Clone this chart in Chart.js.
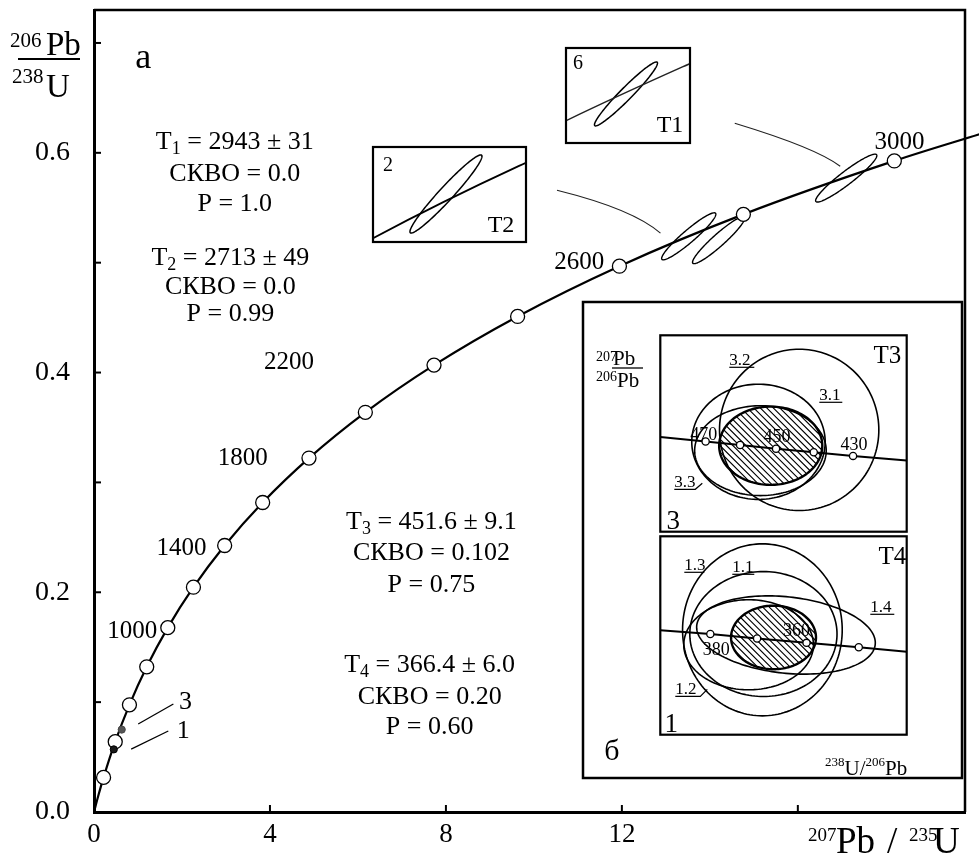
<!DOCTYPE html>
<html><head><meta charset="utf-8">
<script src="https://cdn.jsdelivr.net/npm/chart.js@4.4.1/dist/chart.umd.min.js"></script>
<style>
html,body{margin:0;padding:0;background:#fff}
#wrap{position:relative;width:979px;height:857px;overflow:hidden;background:#fff}
canvas{position:absolute}
</style></head><body>
<div id="wrap">
<canvas id="main" width="979" height="857" style="left:0;top:0"></canvas>
<canvas id="box1"></canvas><canvas id="box2"></canvas><canvas id="p3"></canvas><canvas id="p4"></canvas>
</div>
<script>
const SERIF = '"Liberation Serif","Times New Roman",serif';

// ---------- main concordia (207Pb/235U vs 206Pb/238U) ----------
const concordiaAges = [0,100,200,400,600,800,1000,1200,1400,1600,1800,2000,2200,2400,2600,2800,3000,3100];
const concordiaX = [0,0.1035,0.2177,0.4828,0.8057,1.1987,1.6774,2.2603,2.9701,3.8344,4.8869,6.1685,7.7292,9.6296,11.944,14.762,18.193,20.18];
const concordiaY = [0,0.01563,0.03151,0.06402,0.09754,0.13214,0.16782,0.20462,0.24257,0.28173,0.32212,0.36378,0.40676,0.45109,0.49681,0.54398,0.59264,0.61754];
const markerAges = [200,400,600,800,1000,1200,1400,1600,1800,2000,2200,2400,2600,2800,3000];
const labelledAges = [1000,1400,1800,2200,2600,3000];
const ageLabelX = [0.87,1.99,3.38,4.43,11.03,18.31];
const ageLabelY = [0.164,0.240,0.322,0.4095,0.5005,0.6097];
const sampleX = [0.45,0.63];
const sampleY = [0.057,0.075];
const xTicks = [0,4,8,12,16];
const xTickLabels = ['0','4','8','12',''];
const yTicks = [0,0.1,0.2,0.3,0.4,0.5,0.6,0.7];
const yTickLabels = ['0.0','','0.2','','0.4','','0.6',''];
// error ellipses on the main plot: centre, half-extent, correlation
const mainEllipses = [
  {x:13.52,y:0.524,sx:0.616,sy:0.0214,rho:0.94},
  {x:14.20,y:0.5205,sx:0.594,sy:0.0214,rho:0.94},
  {x:17.10,y:0.577,sx:0.696,sy:0.0218,rho:0.94}
];
const statBlocks = [
  {x:3.20,y:[0.610,0.581,0.553],T:'1',val:'2943 ± 31',mswd:'0.0',p:'1.0'},
  {x:3.10,y:[0.504,0.478,0.453],T:'2',val:'2713 ± 49',mswd:'0.0',p:'0.99'},
  {x:7.67,y:[0.2639,0.2357,0.2066],T:'3',val:'451.6 ± 9.1',mswd:'0.102',p:'0.75'},
  {x:7.63,y:[0.1338,0.1046,0.0773],T:'4',val:'366.4 ± 6.0',mswd:'0.20',p:'0.60'}
];
// leader curves [start, control, end] in data units
const leaderCurves = [
  [[10.525,0.566],[12.26,0.5487],[12.877,0.5269]],
  [[14.566,0.627],[16.44,0.6042],[16.963,0.5878]]
];
const sampleLeaders = [
  {from:[1.005,0.0801],to:[1.804,0.0983],label:'3',lx:2.08,ly:0.1001},
  {from:[0.845,0.0573],to:[1.689,0.0737],label:'1',lx:2.03,ly:0.0737}
];

// ---------- zoom boxes ----------
const box1Ellipse = {x:17.10,y:0.577,sx:0.610,sy:0.0185,rho:0.964};
const box1X = [15.939,18.339], box1Y = [0.5486,0.6036];
const box2Ellipse = {x:13.52,y:0.528,sx:0.612,sy:0.0222,rho:0.965};
const box2X = [12.28,14.88], box2Y = [0.5007,0.5547];

// ---------- Tera-Wasserburg panels (238U/206Pb vs 207Pb/206Pb) ----------
const t3Ages = [470,460,450,440,430];
const t3X = [13.222,13.520,13.831,14.157,14.497];
const t3Y = [0.05645,0.05620,0.05594,0.05569,0.05543];
const t3LineX = [12.83,14.961], t3LineY = [0.05677,0.05511];
const t3Range = {x:[12.83,14.961], y:[0.050062,0.063969]};
const t3Ellipses = [
  {name:'3.2',x:14.031,y:0.057271,sx:0.689,sy:0.00571},
  {name:'3.1',x:13.679,y:0.056427,sx:0.577,sy:0.00408},
  {name:'3.3',x:13.696,y:0.05580,sx:0.569,sy:0.00318},
  {name:'mean',x:13.785,y:0.05615,sx:0.446,sy:0.00277,hatch:true}
];
const t4Ages = [380,370,360,350];
const t4X = [16.469,16.927,17.411,17.923];
const t4Y = [0.054214,0.053975,0.053735,0.053500];
const t4LineX = [15.979,18.3925], t4LineY = [0.054428,0.053258];
const t4Range = {x:[15.979,18.3925], y:[0.048737,0.059535]};
const t4Ellipses = [
  {name:'1.3',x:16.979,y:0.054444,sx:0.782,sy:0.00468},
  {name:'1.1',x:16.989,y:0.054216,sx:0.721,sy:0.00340},
  {name:'1.4',x:17.210,y:0.054163,sx:0.875,sy:0.00213,rho:-0.2},
  {name:'1.2',x:16.844,y:0.053631,sx:0.635,sy:0.00245},
  {name:'mean',x:17.088,y:0.054030,sx:0.416,sy:0.00173,hatch:true}
];

// ---------- helpers ----------
function ellipsePath(ctx, xs, ys, e){
  const cx = xs.getPixelForValue(e.x), cy = ys.getPixelForValue(e.y);
  const kx = xs.getPixelForValue(e.x + e.sx) - cx;
  const ky = cy - ys.getPixelForValue(e.y + e.sy);
  const r = e.rho || 0, q = Math.sqrt(1 - r*r);
  ctx.beginPath();
  for (let i = 0; i <= 160; i++){
    const th = i/160*Math.PI*2;
    const px = cx + kx*Math.cos(th);
    const py = cy - ky*(r*Math.cos(th) + q*Math.sin(th));
    if (i) ctx.lineTo(px,py); else ctx.moveTo(px,py);
  }
  ctx.closePath();
  return {cx,cy,R:Math.max(kx,ky)+3};
}
function hatchEllipse(ctx, xs, ys, e, gap){
  ctx.save();
  const g = ellipsePath(ctx,xs,ys,e);
  ctx.clip();
  ctx.beginPath();
  for (let d = -2*g.R; d <= 2*g.R; d += gap){
    ctx.moveTo(g.cx + d - g.R, g.cy - g.R);
    ctx.lineTo(g.cx + d + g.R, g.cy + g.R);
  }
  ctx.lineWidth = 1.1; ctx.strokeStyle = '#000'; ctx.stroke();
  ctx.restore();
}
function rich(ctx, parts, x, y, align){
  let w = 0;
  for (const p of parts){ ctx.font = p[1]+'px '+SERIF; w += ctx.measureText(p[0]).width; }
  let cx = align==='center' ? x - w/2 : (align==='right' ? x - w : x);
  ctx.textAlign = 'left';
  for (const p of parts){
    ctx.font = p[1]+'px '+SERIF;
    ctx.fillText(p[0], cx, y + (p[2]||0));
    cx += ctx.measureText(p[0]).width;
  }
}
function txt(ctx, s, x, y, size, align, base){
  ctx.font = size+'px '+SERIF; ctx.textAlign = align||'center'; ctx.textBaseline = base||'middle';
  ctx.fillText(s, x, y);
}

// ---------- main chart ----------
const mainPlugin = {
  id:'mainDeco',
  beforeDatasetsDraw(c){
    const ctx = c.ctx, xs = c.scales.x, ys = c.scales.y;
    ctx.save(); ctx.strokeStyle = '#000'; ctx.lineWidth = 1.4;
    mainEllipses.forEach(e => { ellipsePath(ctx,xs,ys,e); ctx.stroke(); });
    ctx.lineWidth = 1.1; ctx.strokeStyle = '#222';
    leaderCurves.forEach(L => {
      ctx.beginPath();
      ctx.moveTo(xs.getPixelForValue(L[0][0]), ys.getPixelForValue(L[0][1]));
      ctx.quadraticCurveTo(xs.getPixelForValue(L[1][0]), ys.getPixelForValue(L[1][1]),
                           xs.getPixelForValue(L[2][0]), ys.getPixelForValue(L[2][1]));
      ctx.stroke();
    });
    ctx.lineWidth = 1.3; ctx.strokeStyle = '#000';
    sampleLeaders.forEach(L => {
      ctx.beginPath();
      ctx.moveTo(xs.getPixelForValue(L.from[0]), ys.getPixelForValue(L.from[1]));
      ctx.lineTo(xs.getPixelForValue(L.to[0]), ys.getPixelForValue(L.to[1]));
      ctx.stroke();
    });
    ctx.restore();
  },
  afterDatasetsDraw(c){
    const ctx = c.ctx, xs = c.scales.x, ys = c.scales.y;
    ctx.save(); ctx.fillStyle = '#000';
    labelledAges.forEach((a,i) => txt(ctx, String(a), xs.getPixelForValue(ageLabelX[i]), ys.getPixelForValue(ageLabelY[i]), 25));
    sampleLeaders.forEach(L => txt(ctx, L.label, xs.getPixelForValue(L.lx), ys.getPixelForValue(L.ly), 26));
    txt(ctx, 'а', xs.getPixelForValue(1.12), ys.getPixelForValue(0.686), 36);
    ctx.textBaseline = 'middle';
    statBlocks.forEach(b => {
      const px = xs.getPixelForValue(b.x);
      rich(ctx, [['T',26],[b.T,18,7],[' = '+b.val,26]], px, ys.getPixelForValue(b.y[0]), 'center');
      rich(ctx, [['СКВО = '+b.mswd,26]], px, ys.getPixelForValue(b.y[1]), 'center');
      rich(ctx, [['P = '+b.p,26]], px, ys.getPixelForValue(b.y[2]), 'center');
    });
    ctx.restore();
  },
  afterDraw(c){
    const ctx = c.ctx, a = c.chartArea, xs = c.scales.x, ys = c.scales.y;
    ctx.save(); ctx.strokeStyle = '#000';
    // top and right frame
    ctx.lineWidth = 2.5;
    ctx.beginPath(); ctx.moveTo(a.left, a.top); ctx.lineTo(a.right, a.top); ctx.lineTo(a.right, a.bottom); ctx.stroke();
    // inward ticks
    ctx.lineWidth = 2;
    xTicks.forEach(v => { const p = xs.getPixelForValue(v); ctx.beginPath(); ctx.moveTo(p, a.bottom); ctx.lineTo(p, a.bottom-7); ctx.stroke(); });
    yTicks.forEach(v => { const p = ys.getPixelForValue(v); ctx.beginPath(); ctx.moveTo(a.left, p); ctx.lineTo(a.left+7, p); ctx.stroke(); });
    // y title
    ctx.fillStyle = '#000'; ctx.textBaseline = 'alphabetic'; ctx.textAlign = 'left';
    ctx.font = '21px '+SERIF; ctx.fillText('206', 10, 47); ctx.fillText('238', 12, 83);
    ctx.font = '33px '+SERIF; ctx.fillText('Pb', 46, 55); ctx.fillText('U', 46, 97);
    ctx.lineWidth = 1.8; ctx.beginPath(); ctx.moveTo(18, 59); ctx.lineTo(80, 59); ctx.stroke();
    // x title
    ctx.font = '19px '+SERIF; ctx.fillText('207', 808, 841); ctx.fillText('235', 909, 841);
    ctx.font = '37px '+SERIF; ctx.fillText('Pb', 836, 853); ctx.fillText('/', 887, 853); ctx.fillText('U', 933, 853);
    // inset frame б
    ctx.fillStyle = '#fff'; ctx.fillRect(583, 302, 379, 476);
    ctx.lineWidth = 2.5; ctx.strokeRect(583, 302, 379, 476);
    ctx.fillStyle = '#000';
    ctx.font = '14px '+SERIF; ctx.fillText('207', 596, 361); ctx.fillText('206', 596, 381);
    ctx.font = '21px '+SERIF; ctx.fillText('Pb', 613, 365); ctx.fillText('Pb', 617, 387);
    ctx.lineWidth = 1.3; ctx.beginPath(); ctx.moveTo(612, 368); ctx.lineTo(643, 368); ctx.stroke();
    txt(ctx, 'б', 612, 752, 30);
    ctx.textAlign = 'left'; ctx.textBaseline = 'alphabetic';
    rich(ctx, [['238',13,-9],['U/',21,0],['206',13,-9],['Pb',21,0]], 825, 775, 'left');
    ctx.restore();
  }
};

new Chart(document.getElementById('main'), {
  type:'scatter',
  data:{datasets:[
    {label:'samples', data: sampleX.map((x,i)=>({x,y:sampleY[i]})), pointRadius:3.6,
     pointBackgroundColor:['#1a1a1a','#555'], pointBorderColor:['#000','#444'], pointBorderWidth:1, order:0},
    {label:'age marks', data: markerAges.map(a => { const i = concordiaAges.indexOf(a); return {x:concordiaX[i], y:concordiaY[i]}; }),
     pointRadius:7, pointBackgroundColor:'#fff', pointBorderColor:'#000', pointBorderWidth:1.3, order:1},
    {label:'concordia', data: concordiaX.map((x,i)=>({x,y:concordiaY[i]})), showLine:true, borderColor:'#000',
     borderWidth:2.2, pointRadius:0, cubicInterpolationMode:'monotone', clip:false, order:2}
  ]},
  options:{
    responsive:false, animation:false, events:[],
    layout:{padding:{top:10,right:14,left:0,bottom:0}},
    plugins:{legend:{display:false}, tooltip:{enabled:false}},
    scales:{
      x:{type:'linear', min:0, max:19.8,
        afterBuildTicks(s){ s.ticks = xTicks.map(v=>({value:v})); },
        afterFit(s){ s.height = 45; s.paddingLeft = 0; s.paddingRight = 0; },
        grid:{display:false, drawTicks:false}, border:{display:true, color:'#000', width:3},
        ticks:{autoSkip:false, maxRotation:0, padding:7, color:'#000', font:{family:SERIF, size:27},
          callback:(v,i)=>xTickLabels[i]}},
      y:{type:'linear', min:0, max:0.73,
        afterBuildTicks(s){ s.ticks = yTicks.map(v=>({value:v})); },
        afterFit(s){ s.width = 94; s.paddingTop = 0; s.paddingBottom = 0; },
        grid:{display:false, drawTicks:false}, border:{display:true, color:'#000', width:3},
        ticks:{autoSkip:false, padding:24, color:'#000', font:{family:SERIF, size:28},
          callback:(v,i)=>yTickLabels[i]}}
    }
  },
  plugins:[mainPlugin]
});

// ---------- inset factory ----------
function inset(id, frame, xr, yr, datasets, opts){
  const pad = 3;
  const cv = document.getElementById(id);
  cv.width = frame.w + 2*pad; cv.height = frame.h + 2*pad;
  cv.style.left = (frame.l - pad)+'px'; cv.style.top = (frame.t - pad)+'px';
  const plug = {
    id:'insetDeco',
    beforeDraw(c){ const a = c.chartArea; c.ctx.save(); c.ctx.fillStyle='#fff'; c.ctx.fillRect(a.left,a.top,a.width,a.height); c.ctx.restore(); },
    beforeDatasetsDraw(c){
      const ctx = c.ctx, xs = c.scales.x, ys = c.scales.y;
      ctx.save();
      ctx.beginPath(); ctx.rect(c.chartArea.left, c.chartArea.top, c.chartArea.width, c.chartArea.height); ctx.clip();
      (opts.ellipses||[]).forEach(e => {
        if (e.hatch) hatchEllipse(ctx, xs, ys, e, 6.5);
        ellipsePath(ctx, xs, ys, e);
        ctx.lineWidth = e.hatch ? 2.4 : (opts.ellipseWidth||1.6); ctx.strokeStyle = '#000'; ctx.stroke();
      });
      ctx.restore();
    },
    afterDraw(c){
      const ctx = c.ctx, a = c.chartArea, xs = c.scales.x, ys = c.scales.y;
      ctx.save(); ctx.fillStyle = '#000'; ctx.strokeStyle = '#000';
      (opts.labels||[]).forEach(L => txt(ctx, L[0], a.left+L[1], a.top+L[2], L[3]));
      (opts.under||[]).forEach(L => {
        txt(ctx, L[0], a.left+L[1], a.top+L[2], 17, 'left', 'alphabetic');
        ctx.lineWidth = 1.2; ctx.beginPath(); ctx.moveTo(a.left+L[1], a.top+L[2]+2); ctx.lineTo(a.left+L[3], a.top+L[2]+2);
        if (L[4] !== undefined) ctx.lineTo(a.left+L[4], a.top+L[5]);
        ctx.stroke();
      });
      (opts.ageLabels||[]).forEach(L => {
        const i = opts.ages.indexOf(L[0]);
        txt(ctx, String(L[0]), xs.getPixelForValue(opts.ax[i])+L[1], ys.getPixelForValue(opts.ay[i])+L[2], 18);
      });
      ctx.lineWidth = opts.frameWidth || 2.2;
      ctx.strokeRect(a.left, a.top, a.width, a.height);
      ctx.restore();
    }
  };
  return new Chart(cv, {
    type:'scatter', data:{datasets},
    options:{responsive:false, animation:false, events:[], layout:{padding:pad},
      plugins:{legend:{display:false}, tooltip:{enabled:false}},
      scales:{x:{type:'linear', display:false, min:xr[0], max:xr[1]}, y:{type:'linear', display:false, min:yr[0], max:yr[1]}}},
    plugins:[plug]
  });
}
const concordiaData = concordiaX.map((x,i)=>({x,y:concordiaY[i]}));

inset('box1', {l:566,t:48,w:124,h:95}, box1X, box1Y,
  [{data:concordiaData, showLine:true, borderColor:'#222', borderWidth:1.5, pointRadius:0, cubicInterpolationMode:'monotone'}],
  {ellipses:[box1Ellipse], ellipseWidth:1.5, labels:[['6',12,16,20],['T1',104,78,24]]});
inset('box2', {l:373,t:147,w:153,h:95}, box2X, box2Y,
  [{data:concordiaData, showLine:true, borderColor:'#000', borderWidth:1.8, pointRadius:0, cubicInterpolationMode:'monotone'}],
  {ellipses:[box2Ellipse], ellipseWidth:1.5, labels:[['2',15,19,20],['T2',128,79,24]]});

function panelDatasets(lx, ly, ax, ay){
  const line = [{x:lx[0],y:ly[0]}].concat(ax.map((x,i)=>({x,y:ay[i]}))).concat([{x:lx[1],y:ly[1]}]);
  return [
    {data: ax.map((x,i)=>({x,y:ay[i]})), pointRadius:3.6, pointBackgroundColor:'#fff', pointBorderColor:'#000', pointBorderWidth:1.3, order:0},
    {data: line, showLine:true, borderColor:'#000', borderWidth:2, pointRadius:0, order:1}
  ];
}
inset('p3', {l:658,t:333,w:251,h:201}, t3Range.x, t3Range.y, panelDatasets(t3LineX,t3LineY,t3X,t3Y),
  {ellipses:t3Ellipses, ages:t3Ages, ax:t3X, ay:t3Y,
   ageLabels:[[470,-2,-6],[450,1,-11],[430,1,-11]],
   labels:[['T3',227,21,25],['3',13,187,27]],
   under:[['3.2',69,30,94],['3.1',159,65,182],['3.3',14,152,35,42,148]]});
inset('p4', {l:658,t:534,w:251,h:203}, t4Range.x, t4Range.y, panelDatasets(t4LineX,t4LineY,t4X,t4Y),
  {ellipses:t4Ellipses, ages:t4Ages, ax:t4X, ay:t4Y,
   ageLabels:[[380,6,16],[360,-10,-12]],
   labels:[['T4',232,21,25],['1',11,189,27]],
   under:[['1.3',24,34,44],['1.1',72,36,94],['1.4',210,76,234],['1.2',15,158,40,47,153]]});
</script>
</body></html>
